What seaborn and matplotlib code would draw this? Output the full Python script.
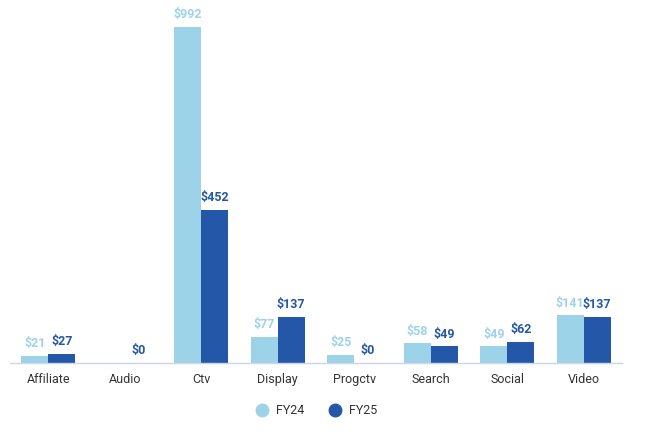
import pandas as pd
import numpy as np
import matplotlib
matplotlib.use('Agg')
import matplotlib.pyplot as plt
import seaborn as sns

channels = ['Affiliate', 'Audio', 'Ctv', 'Display', 'Progctv', 'Search', 'Social', 'Video']
fy24 = [21, np.nan, 992, 77, 25, 58, 49, 141]
fy25 = [27, 0, 452, 137, 0, 49, 62, 137]
years = ['FY24', 'FY25']
colors = ['#9dd3e8', '#2557a8']

df = pd.DataFrame({
    'Channel': channels * 2,
    'Year': [years[0]] * len(channels) + [years[1]] * len(channels),
    'Spend': fy24 + fy25,
})

sns.set_style('white')
plt.rcParams['font.family'] = ['Roboto', 'DejaVu Sans']

fig = plt.figure(figsize=(6.5, 4.42), dpi=100)
ax = fig.add_axes([10 / 650, 1 - 363 / 442, 612 / 650, 355 / 442])

sns.barplot(data=df, x='Channel', y='Spend', hue='Year', palette=colors,
            width=0.705, saturation=1, linewidth=0, ax=ax, legend=False)

for cont, col in zip(ax.containers, colors):
    for bar in cont:
        if bar is None:
            continue
        h = bar.get_height()
        if np.isnan(h):
            continue
        ax.annotate(f'${h:.0f}', (bar.get_x() + bar.get_width() / 2, h),
                    xytext=(0, 4), textcoords='offset points',
                    ha='center', va='bottom', color=col,
                    fontsize=9, fontweight='bold', annotation_clip=False)

ax.set_ylim(0, 1048)
ax.set_xlim(-0.5, len(channels) - 0.5)
ax.set_xlabel('')
ax.set_ylabel('')
ax.set_yticks([])
for s in ['top', 'right', 'left']:
    ax.spines[s].set_visible(False)
ax.spines['bottom'].set_color('#ccd6eb')
ax.spines['bottom'].set_linewidth(1)
ax.tick_params(axis='x', length=0, pad=7, labelsize=9, labelcolor='#333333')

handles = [plt.Line2D([], [], marker='o', linestyle='', markersize=9,
                      markerfacecolor=c, markeredgecolor=c) for c in colors]
fig.legend(handles, years, loc='center', bbox_to_anchor=(316.5 / 650, 1 - 411 / 442),
           ncol=2, frameon=False, fontsize=9, handlelength=1.0, handletextpad=0.6,
           columnspacing=2.0, labelcolor='#333333')

plt.savefig('out.png', dpi=100)
plt.close()
